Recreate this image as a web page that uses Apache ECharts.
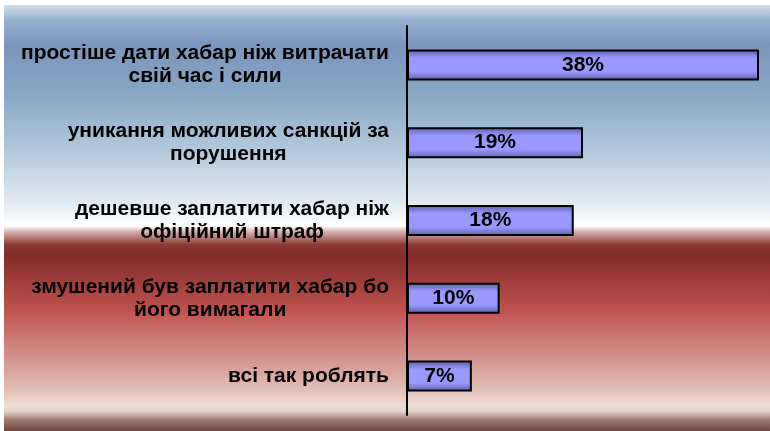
<!DOCTYPE html>
<html><head><meta charset="utf-8">
<script src="https://cdn.jsdelivr.net/npm/echarts@6/dist/echarts.min.js"></script>
<style>
html,body{margin:0;padding:0;background:#fff;width:770px;height:431px;overflow:hidden;}
#c{position:absolute;left:4px;top:5px;width:766px;height:426px;}
</style></head>
<body><div id="c"></div>
<script>
const categories = [
  "простіше дати хабар ніж витрачати\nсвій час і сили",
  "уникання можливих санкцій за\nпорушення",
  "дешевше заплатити хабар ніж\nофіційний штраф",
  "змушений був заплатити хабар бо\nйого вимагали",
  "всі так роблять"
];
const values = [38, 19, 18, 10, 7];

const H = 426;
function st(y, c){ return {offset: Math.min(1, Math.max(0, (y-5)/H)), color: c}; }
const bg = new echarts.graphic.LinearGradient(0,0,0,1,[
  st(5,'#d3e0ec'), st(20,'#98b0cf'), st(45,'#7c95bc'), st(90,'#86a5c4'),
  st(150,'#b2c8db'), st(200,'#dfe8f0'), st(226,'#ffffff'),
  st(231,'#d9b8b6'), st(245,'#8a3631'), st(258,'#832d2b'),
  st(310,'#c0524e'), st(350,'#d08883'), st(390,'#e2beb6'),
  st(405,'#ecdcd5'), st(411,'#e6d4ce'), st(420,'#a07a72'), st(431,'#6f463f')
]);

const chart = echarts.init(document.getElementById('c'), null, {renderer:'canvas'});
chart.setOption({
  backgroundColor: bg,
  animation: false,
  grid: {left: 403, right: 11, top: 21, bottom: 16},
  xAxis: {type:'value', min:0, max:38, show:false, splitLine:{show:false}},
  yAxis: {
    type:'category', data: categories, inverse: true,
    axisLine:{show:true, lineStyle:{color:'#000', width:2}},
    axisTick:{show:false},
    axisLabel:{
      margin: 18,
      formatter: v => v.split('\n').map(s => '{c|' + s + '}').join('\n'),
      rich: {c: {align:'center', fontFamily:'Liberation Sans, Arial, sans-serif', fontWeight:'bold', fontSize:21, color:'#000', lineHeight:23}}
    }
  },
  series: [{
    type:'bar', data: values, barWidth: 31,
    itemStyle:{
      color: new echarts.graphic.LinearGradient(0,0,0,1,[
        {offset:0,color:'#5c5ca8'},{offset:0.28,color:'#9999ff'},
        {offset:0.72,color:'#9999ff'},{offset:1,color:'#5c5ca8'}]),
      borderColor:'#000', borderWidth:2
    },
    label:{show:true, position:'inside', formatter: p => p.value + '%',
      fontFamily:'Liberation Sans, Arial, sans-serif', fontWeight:'bold', fontSize:21, color:'#000'}
  }]
});
</script></body></html>
